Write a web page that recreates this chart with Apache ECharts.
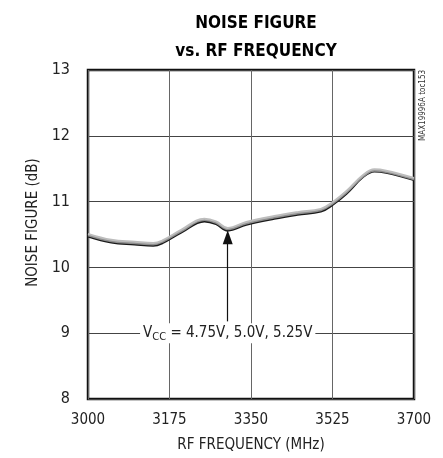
<!DOCTYPE html>
<html><head><meta charset="utf-8">
<script src="https://cdn.jsdelivr.net/npm/echarts@6/dist/echarts.min.js"></script>
<style>html,body{margin:0;padding:0;background:#fff}#c{width:443px;height:458px}</style>
</head><body><div id="c"></div>
<script>
const freq = [3000, 3050, 3100, 3140, 3160, 3200, 3250, 3275, 3300, 3340, 3400, 3450, 3500, 3525, 3555, 3590, 3615, 3640, 3700];
const vcc475 = [10.47, 10.38, 10.35, 10.33, 10.37, 10.53, 10.70, 10.66, 10.56, 10.65, 10.74, 10.80, 10.85, 10.95, 11.12, 11.37, 11.46, 11.44, 11.33];
const vcc50  = [10.49, 10.40, 10.37, 10.35, 10.39, 10.55, 10.72, 10.68, 10.58, 10.67, 10.76, 10.82, 10.87, 10.97, 11.14, 11.38, 11.47, 11.45, 11.34];
const vcc525 = [10.51, 10.42, 10.39, 10.37, 10.41, 10.57, 10.74, 10.70, 10.60, 10.69, 10.78, 10.84, 10.89, 10.99, 11.16, 11.40, 11.49, 11.47, 11.36];
const xTicks = [3000, 3175, 3350, 3525, 3700];
const yTicks = [8, 9, 10, 11, 12, 13];
const FONT = "'DejaVu Sans Condensed', sans-serif";
const pair = a => freq.map((f, i) => [f, a[i]]);
const chart = echarts.init(document.getElementById('c'));
chart.setOption({
  animation: false,
  title: {
    text: 'NOISE FIGURE\nvs. RF FREQUENCY', left: 251, top: 5, textAlign: 'center',
    textStyle: { fontFamily: FONT, fontWeight: 'bold', fontSize: 17, lineHeight: 28, color: '#000' }
  },
  grid: { left: 88, right: 29, top: 70, bottom: 59, show: true, borderColor: '#111', borderWidth: 2.5, backgroundColor: 'transparent' },
  xAxis: {
    type: 'value', min: xTicks[0], max: xTicks[xTicks.length - 1], interval: 175,
    name: 'RF FREQUENCY (MHz)', nameLocation: 'middle', nameGap: 39,
    nameTextStyle: { fontFamily: FONT, fontSize: 15, color: '#222' },
    axisLine: { show: false }, axisTick: { show: false },
    axisLabel: { fontFamily: FONT, fontSize: 15, color: '#222', margin: 14, formatter: v => String(v) },
    splitLine: { show: true, lineStyle: { color: '#666', width: 1 } }
  },
  yAxis: {
    type: 'value', min: yTicks[0], max: yTicks[yTicks.length - 1], interval: 1,
    name: 'NOISE FIGURE (dB)', nameLocation: 'middle', nameGap: 46,
    nameTextStyle: { fontFamily: FONT, fontSize: 15, color: '#222', padding: [0, 0, 0, 24] },
    axisLine: { show: false }, axisTick: { show: false },
    axisLabel: { fontFamily: FONT, fontSize: 16, color: '#222', margin: 18 },
    splitLine: { show: true, lineStyle: { color: '#444', width: 1 } }
  },
  series: [
    { name: '4.75V', type: 'line', data: pair(vcc475), smooth: 0.4, showSymbol: false,
      lineStyle: { color: '#1a1a1a', width: 2.2 },
      markLine: {
        silent: true, symbol: ['none', 'triangle'], symbolSize: [10, 14],
        lineStyle: { color: '#111', width: 1.2, type: 'solid' }, label: { show: false },
        data: [[{ coord: [3300, 9.18] }, { coord: [3300, 10.46] }]]
      },
      markPoint: {
        silent: true, symbol: 'rect', symbolSize: 0,
        data: [{ coord: [3300, 9] }],
        label: {
          show: true, position: 'inside', backgroundColor: '#fff', padding: [0, 3],
          formatter: '{v|V}{s|CC}{v| = 4.75V, 5.0V, 5.25V}',
          rich: {
            v: { fontFamily: FONT, fontSize: 15, color: '#222', lineHeight: 20 },
            s: { fontFamily: FONT, fontSize: 11, color: '#222', lineHeight: 20, padding: [7, 0, 0, 0] }
          }
        }
      }
    },
    { name: '5.0V', type: 'line', data: pair(vcc50), smooth: 0.4, showSymbol: false,
      lineStyle: { color: '#8e8e8e', width: 2.2 } },
    { name: '5.25V', type: 'line', data: pair(vcc525), smooth: 0.4, showSymbol: false,
      lineStyle: { color: '#bdbdbd', width: 2 } }
  ],
  graphic: [{
    type: 'text', x: 419, y: 141, rotation: Math.PI / 2,
    style: { text: 'MAX19996A toc153', fontFamily: FONT, fontSize: 8, fill: '#333' }
  }]
});
</script></body></html>
